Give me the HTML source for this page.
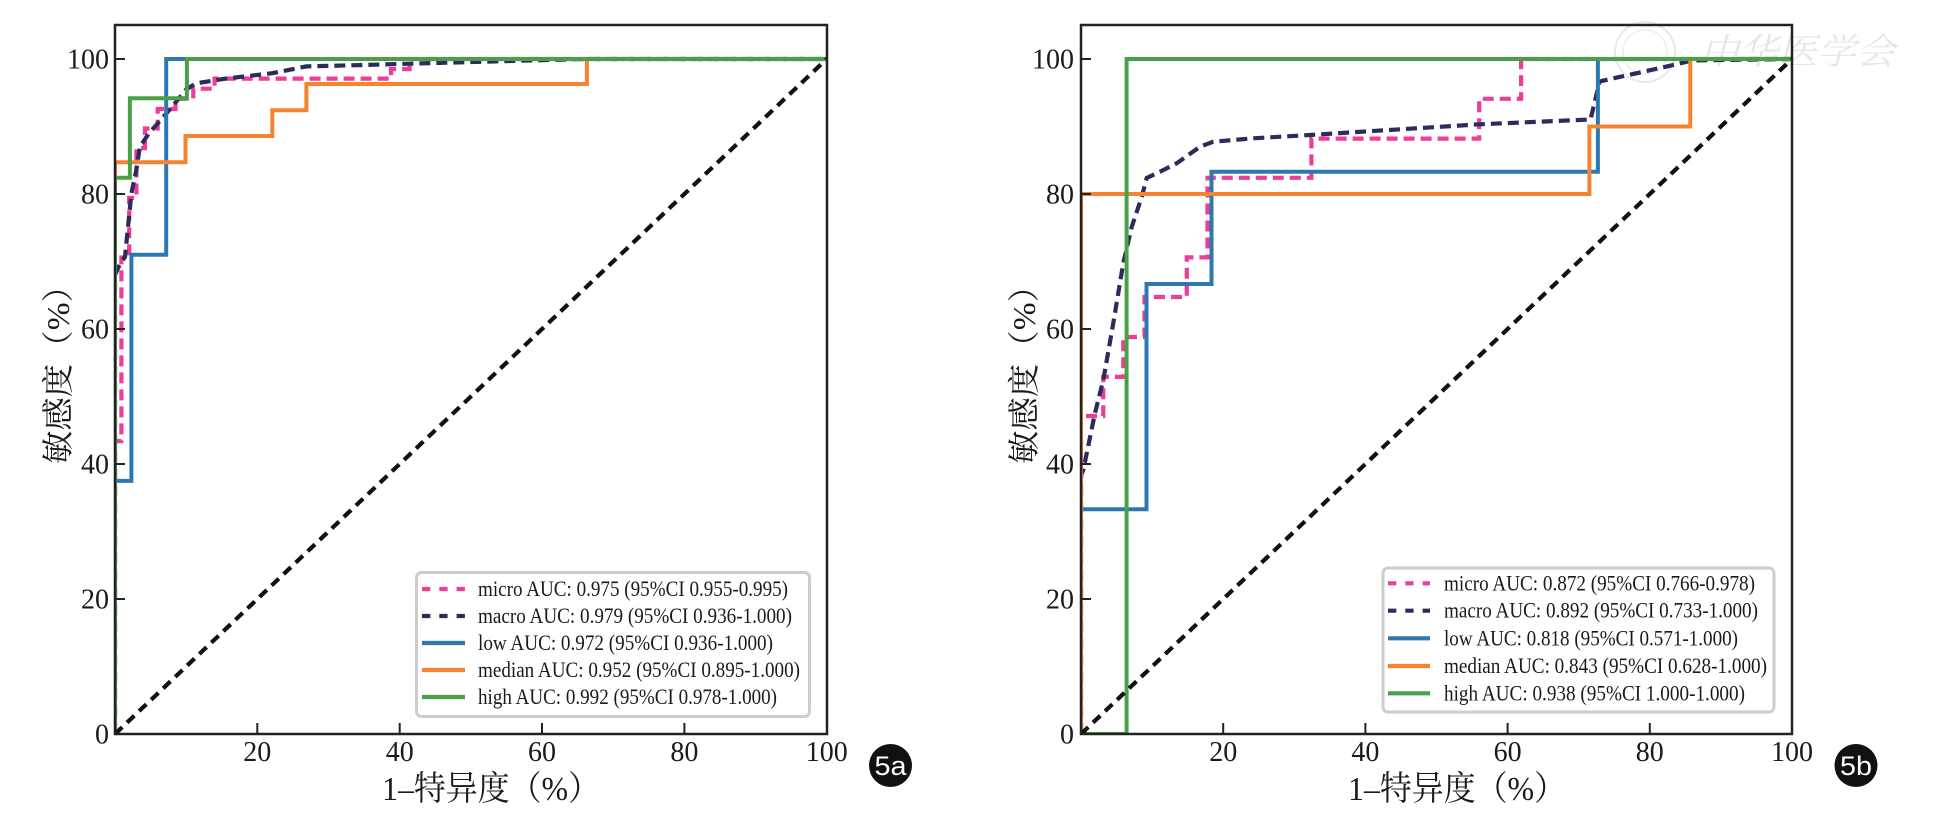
<!DOCTYPE html>
<html>
<head>
<meta charset="utf-8">
<style>
html,body{margin:0;padding:0;background:#fff;}
svg{display:block;}
.tk{font-family:"Liberation Serif","Noto Serif CJK SC",serif;font-size:28px;fill:#1a1a1a;}
.lg{font-family:"Liberation Serif","Noto Serif CJK SC",serif;font-size:22px;fill:#1a1a1a;}
.ti{font-family:"Liberation Serif","Noto Serif CJK SC",serif;fill:#1a1a1a;}
</style>
</head>
<body>
<svg width="1934" height="819" viewBox="0 0 1934 819" xmlns="http://www.w3.org/2000/svg">
<rect x="0" y="0" width="1934" height="819" fill="#fff"/>
<defs>
<clipPath id="cl"><rect x="115" y="25" width="712" height="709"/></clipPath>
<clipPath id="cr"><rect x="1081" y="25" width="711" height="709"/></clipPath>
</defs>

<!-- watermark -->
<g>
<circle cx="1645" cy="52" r="30" fill="none" stroke="#e8e8e8" stroke-width="2"/>
<circle cx="1645" cy="52" r="22" fill="none" stroke="#eeeeee" stroke-width="1.5"/>
<text x="1700" y="64" font-family="Noto Serif CJK SC, serif" font-size="36" font-style="italic" fill="#e6e6e6" textLength="195" lengthAdjust="spacingAndGlyphs">中华医学会</text>
</g>

<!-- ============ LEFT CHART ============ -->
<g clip-path="url(#cl)" fill="none" stroke-linejoin="miter">
<path d="M115,734 L115,441 L121.4,441 L121.4,257.5 L129.2,257.5 L129.2,198 L136.4,198 L136.4,148.1 L144.9,148.1 L144.9,128.5 L157.7,128.5 L157.7,109 L175.5,109 L175.5,98.8 L193.3,98.8 L193.3,88.7 L214.6,88.7 L214.6,78.6 L391.1,78.6 L391.1,69.1 L409.6,69.1 L409.6,59 L826.7,59" stroke="#ee3d96" stroke-width="4.2" stroke-dasharray="11 6"/>
<path d="M115,734 L115,275 L118.6,266.9 L125,256.8 L131.4,193.3 L136.4,169.7 L139.9,146.8 L148.5,133.9 L169.1,110.3 L186.2,89.4 L196.1,83.3 L226,78.6 L272.3,73.2 L306.4,66.4 L359.8,65.1 L409.6,63.7 L584.7,59 L826.7,59" stroke="#2b2c5c" stroke-width="4.2" stroke-dasharray="11 6"/>
<path d="M115,734 L115,480.9 L131.4,480.9 L131.4,254.8 L166.2,254.8 L166.2,59 L826.7,59" stroke="#2e78b2" stroke-width="4"/>
<path d="M115,734 L115,162.3 L185.5,162.3 L185.5,136 L272.3,136 L272.3,110.3 L306.4,110.3 L306.4,84 L586.9,84 L586.9,59 L826.7,59" stroke="#f5832f" stroke-width="4"/>
<path d="M115,734 L115,177.8 L129.9,177.8 L129.9,98.2 L186.9,98.2 L186.9,59 L826.7,59" stroke="#48a047" stroke-width="4"/>
<path d="M115,734 L826.7,59" stroke="#111" stroke-width="4.2" stroke-dasharray="10 6.6"/>
</g>
<rect x="115" y="25" width="712" height="709" fill="none" stroke="#222" stroke-width="2.5"/>
<g stroke="#222" stroke-width="2">
<line x1="115" y1="599" x2="125" y2="599"/><line x1="115" y1="464" x2="125" y2="464"/>
<line x1="115" y1="329" x2="125" y2="329"/><line x1="115" y1="194" x2="125" y2="194"/>
<line x1="115" y1="59" x2="125" y2="59"/>
<line x1="257.3" y1="734" x2="257.3" y2="723"/><line x1="399.7" y1="734" x2="399.7" y2="723"/>
<line x1="542" y1="734" x2="542" y2="723"/><line x1="684.4" y1="734" x2="684.4" y2="723"/>
</g>
<g class="tk" text-anchor="end">
<text x="109" y="743.5">0</text><text x="109" y="608.5">20</text><text x="109" y="473.5">40</text>
<text x="109" y="338.5">60</text><text x="109" y="203.5">80</text><text x="109" y="68.5">100</text>
</g>
<g class="tk" text-anchor="middle">
<text x="257.3" y="761">20</text><text x="399.7" y="761">40</text><text x="542" y="761">60</text>
<text x="684.4" y="761">80</text><text x="826.7" y="761">100</text>
</g>
<text class="ti" x="382" y="800" font-size="34" textLength="218" lengthAdjust="spacingAndGlyphs">1–特异度（%）</text>
<text class="ti" font-size="32" transform="translate(69,464) rotate(-90)" textLength="195" lengthAdjust="spacingAndGlyphs">敏感度（%）</text>

<!-- left legend -->
<rect x="416.5" y="572.5" width="393" height="144" rx="5" fill="#fff" stroke="#cdcdcd" stroke-width="3"/>
<g fill="none" stroke-width="4.2">
<path d="M422,589 H465" stroke="#ee3d96" stroke-dasharray="8.3 9"/>
<path d="M422,616 H465" stroke="#2b2c5c" stroke-dasharray="8.3 9"/>
<path d="M422,643 H465" stroke="#2e78b2"/>
<path d="M422,670 H465" stroke="#f5832f"/>
<path d="M422,697 H465" stroke="#48a047"/>
</g>
<g class="lg">
<text x="478" y="596" textLength="310" lengthAdjust="spacingAndGlyphs">micro AUC: 0.975 (95%CI 0.955-0.995)</text>
<text x="478" y="623" textLength="314" lengthAdjust="spacingAndGlyphs">macro AUC: 0.979 (95%CI 0.936-1.000)</text>
<text x="478" y="650" textLength="295" lengthAdjust="spacingAndGlyphs">low AUC: 0.972 (95%CI 0.936-1.000)</text>
<text x="478" y="677" textLength="322" lengthAdjust="spacingAndGlyphs">median AUC: 0.952 (95%CI 0.895-1.000)</text>
<text x="478" y="704" textLength="299" lengthAdjust="spacingAndGlyphs">high AUC: 0.992 (95%CI 0.978-1.000)</text>
</g>

<!-- badge 5a -->
<circle cx="890.5" cy="765.5" r="21.5" fill="#111"/>
<text x="890.5" y="775" text-anchor="middle" font-family="Liberation Sans, sans-serif" font-size="27" fill="#fff" textLength="32" lengthAdjust="spacingAndGlyphs">5a</text>

<!-- ============ RIGHT CHART ============ -->
<g clip-path="url(#cr)" fill="none" stroke-linejoin="miter">
<path d="M1081,734 L1081,416 L1103.3,416 L1103.3,376.9 L1123.3,376.9 L1123.3,337 L1144.5,337 L1144.5,297 L1186.8,297 L1186.8,257.4 L1207.5,257.4 L1207.5,177.8 L1311.4,177.8 L1311.4,138.6 L1479.2,138.6 L1479.2,98.8 L1521.1,98.8 L1521.1,59 L1792,59" stroke="#ee3d96" stroke-width="4.2" stroke-dasharray="11 6"/>
<path d="M1081,734 L1081,475 L1083.3,470 L1095,413 L1103.3,380 L1113.3,323 L1123.3,263 L1131.7,227 L1141.7,197 L1146.7,178 L1160,171.7 L1176.7,163.3 L1200,146.7 L1213.3,141.7 L1253.3,138.3 L1310,135 L1479.3,124.3 L1590.5,119.5 L1599.7,81.4 L1670.7,65.6 L1692.3,60.4 L1792,59" stroke="#2b2c5c" stroke-width="4.2" stroke-dasharray="11 6"/>
<path d="M1081,734 L1081,509.2 L1146.5,509.2 L1146.5,284 L1211.5,284 L1211.5,171.7 L1597.9,171.7 L1597.9,59 L1792,59" stroke="#2e78b2" stroke-width="4"/>
<path d="M1081,734 L1081,194 L1589.4,194 L1589.4,126.5 L1690.3,126.5 L1690.3,59 L1792,59" stroke="#f5832f" stroke-width="4"/>
<path d="M1081,734 L1126.6,734 L1126.6,59 L1792,59" stroke="#48a047" stroke-width="4"/>
<path d="M1081,734 L1792,59" stroke="#111" stroke-width="4.2" stroke-dasharray="10 6.6"/>
</g>
<rect x="1081" y="25" width="711" height="709" fill="none" stroke="#222" stroke-width="2.5"/>
<g stroke="#222" stroke-width="2">
<line x1="1081" y1="599" x2="1091" y2="599"/><line x1="1081" y1="464" x2="1091" y2="464"/>
<line x1="1081" y1="329" x2="1091" y2="329"/><line x1="1081" y1="194" x2="1091" y2="194"/>
<line x1="1081" y1="59" x2="1091" y2="59"/>
<line x1="1223.2" y1="734" x2="1223.2" y2="723"/><line x1="1365.4" y1="734" x2="1365.4" y2="723"/>
<line x1="1507.6" y1="734" x2="1507.6" y2="723"/><line x1="1649.8" y1="734" x2="1649.8" y2="723"/>
</g>
<g class="tk" text-anchor="end">
<text x="1074" y="743.5">0</text><text x="1074" y="608.5">20</text><text x="1074" y="473.5">40</text>
<text x="1074" y="338.5">60</text><text x="1074" y="203.5">80</text><text x="1074" y="68.5">100</text>
</g>
<g class="tk" text-anchor="middle">
<text x="1223.2" y="761">20</text><text x="1365.4" y="761">40</text><text x="1507.6" y="761">60</text>
<text x="1649.8" y="761">80</text><text x="1792" y="761">100</text>
</g>
<text class="ti" x="1348" y="800" font-size="34" textLength="218" lengthAdjust="spacingAndGlyphs">1–特异度（%）</text>
<text class="ti" font-size="32" transform="translate(1035,464) rotate(-90)" textLength="195" lengthAdjust="spacingAndGlyphs">敏感度（%）</text>

<!-- right legend -->
<rect x="1383" y="568" width="391" height="144" rx="5" fill="#fff" stroke="#cdcdcd" stroke-width="3"/>
<g fill="none" stroke-width="4.2">
<path d="M1388,583.3 H1430" stroke="#ee3d96" stroke-dasharray="8.3 9"/>
<path d="M1388,610.7 H1430" stroke="#2b2c5c" stroke-dasharray="8.3 9"/>
<path d="M1388,638.3 H1430" stroke="#2e78b2"/>
<path d="M1388,666 H1430" stroke="#f5832f"/>
<path d="M1388,693.3 H1430" stroke="#48a047"/>
</g>
<g class="lg">
<text x="1444" y="590.3" textLength="311" lengthAdjust="spacingAndGlyphs">micro AUC: 0.872 (95%CI 0.766-0.978)</text>
<text x="1444" y="617.7" textLength="314" lengthAdjust="spacingAndGlyphs">macro AUC: 0.892 (95%CI 0.733-1.000)</text>
<text x="1444" y="645.3" textLength="294" lengthAdjust="spacingAndGlyphs">low AUC: 0.818 (95%CI 0.571-1.000)</text>
<text x="1444" y="673" textLength="323" lengthAdjust="spacingAndGlyphs">median AUC: 0.843 (95%CI 0.628-1.000)</text>
<text x="1444" y="700.3" textLength="301" lengthAdjust="spacingAndGlyphs">high AUC: 0.938 (95%CI 1.000-1.000)</text>
</g>

<!-- badge 5b -->
<circle cx="1856" cy="765.5" r="21.5" fill="#111"/>
<text x="1856" y="775" text-anchor="middle" font-family="Liberation Sans, sans-serif" font-size="27" fill="#fff" textLength="32" lengthAdjust="spacingAndGlyphs">5b</text>
</svg>
</body>
</html>
